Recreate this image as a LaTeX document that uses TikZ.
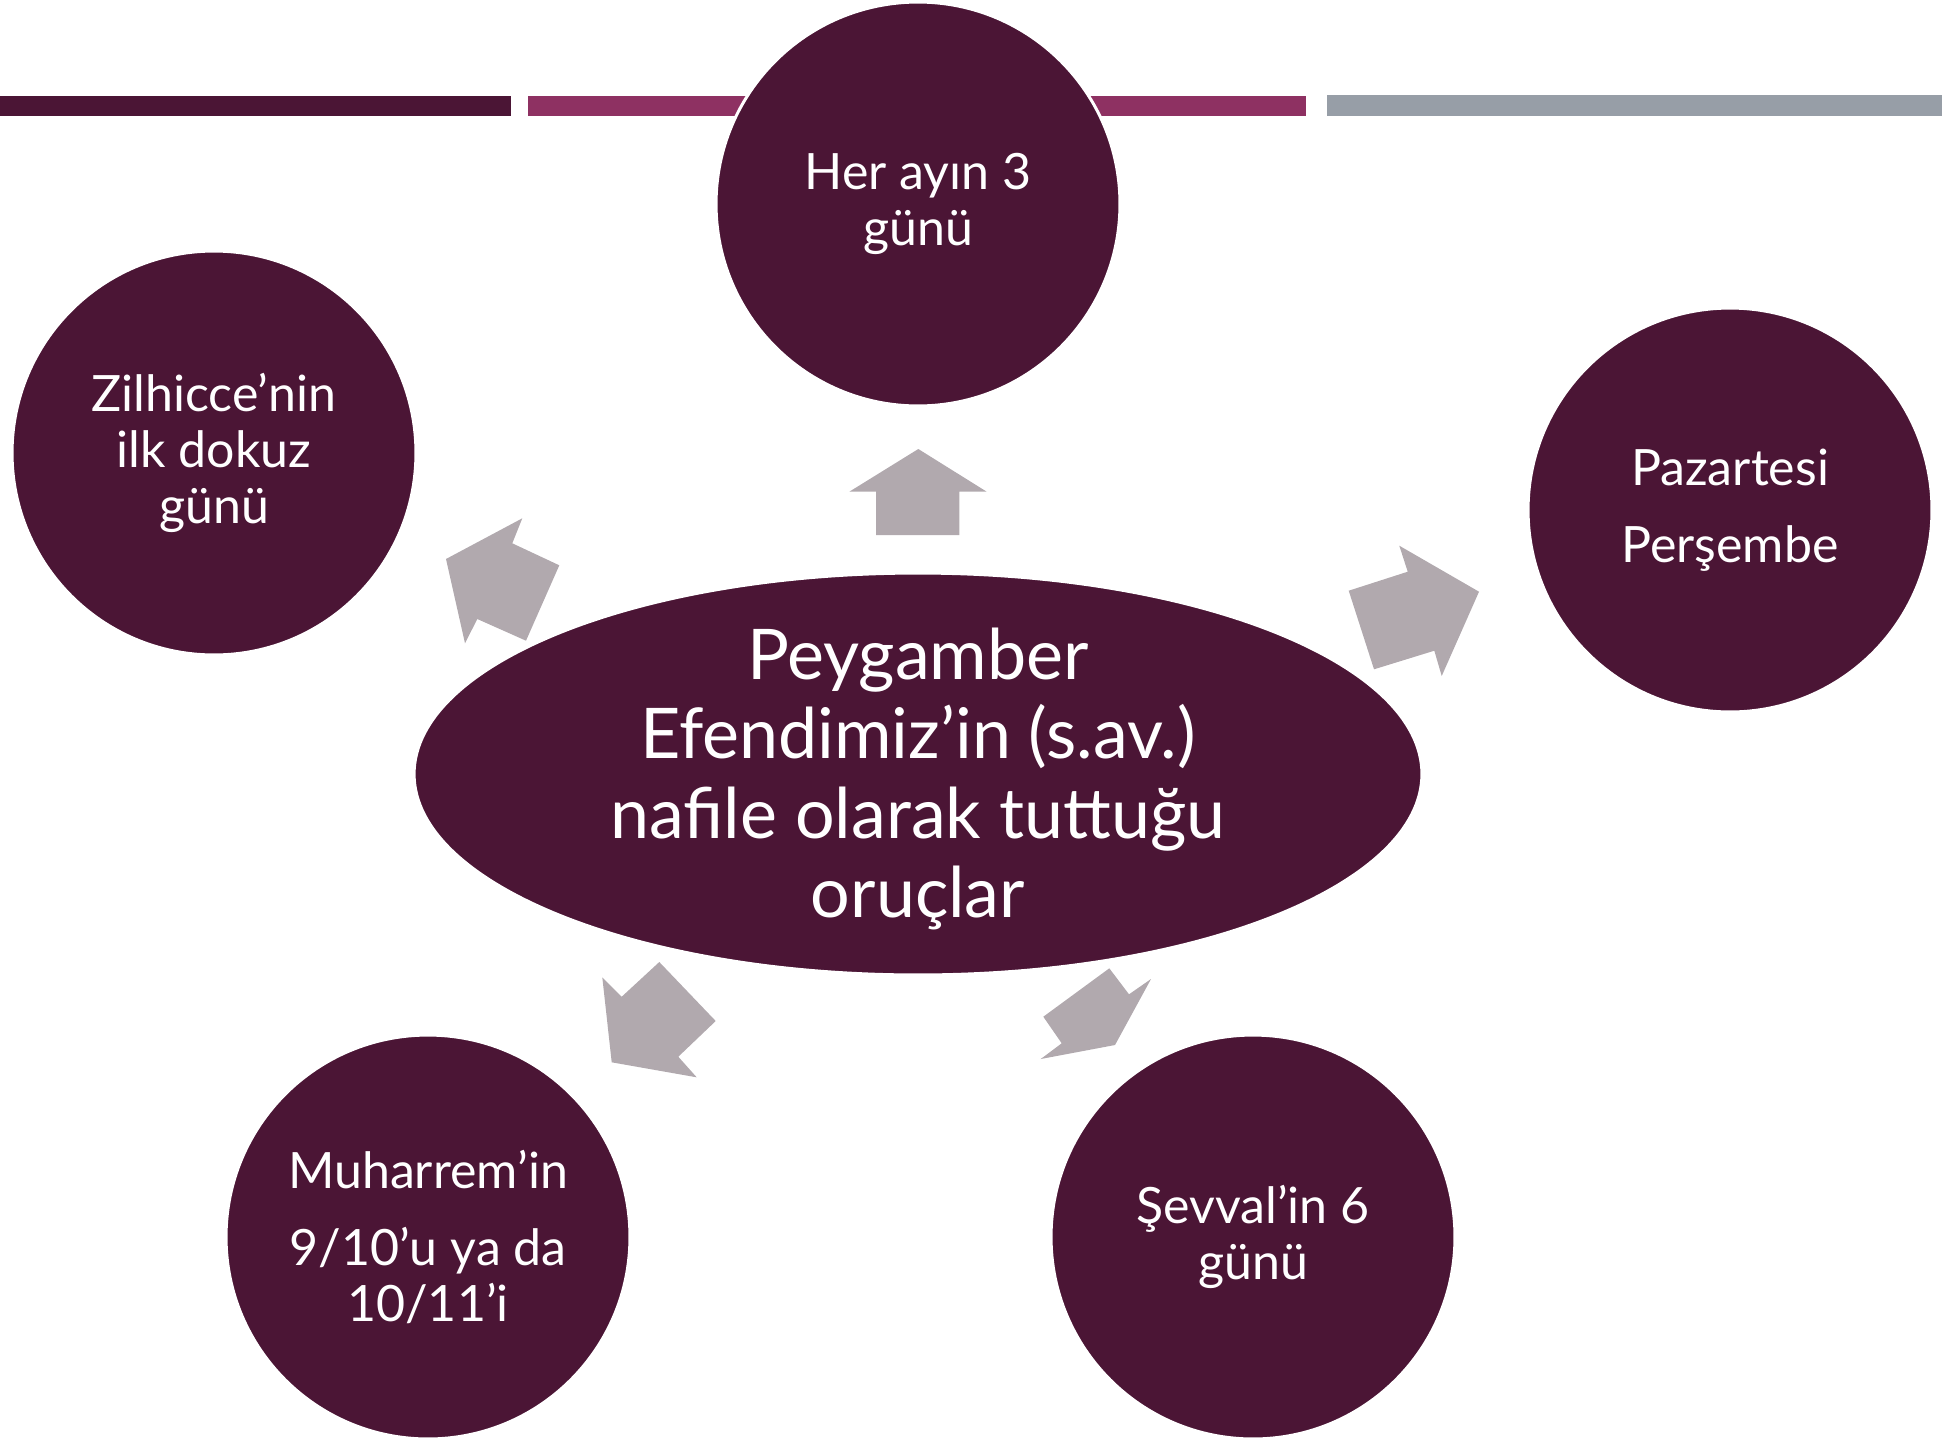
\documentclass[tikz,border=0pt]{standalone}
\usepackage{fontspec}
\setmainfont{Lato}
\usepackage{tikz}
\usetikzlibrary{shapes.geometric}
\definecolor{plum}{HTML}{4B1535}
\definecolor{berry}{HTML}{8E3162}
\definecolor{slate}{HTML}{979EA7}
\definecolor{ash}{HTML}{B1A9AE}

\begin{document}
\begin{tikzpicture}[x=0.02cm,y=-0.02cm,
	bubble/.style={circle,fill=plum,draw=white,line width=1.7pt,minimum size=8.08cm,inner sep=0pt,
		text=white,align=center,font=\fontsize{28.5}{31.9}\selectfont},
	hub/.style={ellipse,fill=plum,draw=white,line width=1.7pt,minimum width=20.16cm,minimum height=8.04cm,inner sep=0pt},
	hubtext/.style={text=white,align=center,font=\fontsize{39.8}{45}\selectfont},
	blockarrow/.style={fill=ash}]
	\useasboundingbox (0,0) rectangle (1942,1440);
	
	% bars along the top
	\fill[plum] (0,96) rectangle (510.5,116);
	\fill[berry] (528,96) rectangle (1306,116);
	\fill[slate] (1327,95) rectangle (1942,116);
	
	\node[bubble] (top) at (918,204) {Her ayın 3\\günü};
	\node[bubble] (left) at (214,453) {Zilhicce’nin\\ilk dokuz\\günü};
	\node[bubble] (right) at (1730,510) {Pazartesi\\[12pt]Perşembe};
	\node[bubble] (botleft) at (428,1237) {Muharrem’in\\[12pt]9/10’u ya da\\10/11’i};
	\node[bubble] (botright) at (1253,1237) {Şevval’in 6\\günü};
	
	\node[hub] (hub) at (918,774) {};
	\node[hubtext] (hubtxt) at (918,779) {Peygamber\\Efendimiz’in (s.av.)\\nafile olarak tuttuğu\\oruçlar};
	
	% block arrows
	\fill[blockarrow] (918.3,449) -- (986.7,491.7) -- (959.3,491.7) -- (959.3,535) -- (876,535) -- (876,491.7) -- (849.3,491.7) -- cycle;
	\fill[blockarrow] (446,559) -- (522.3,518.3) -- (512.3,543.3) -- (559.3,565.3) -- (526,640.7) -- (477.3,619) -- (465,643.3) -- cycle;
	\fill[blockarrow] (1399.3,545.7) -- (1479,591.7) -- (1441.7,676) -- (1434.3,650.7) -- (1374,669.3) -- (1348.7,590.7) -- (1407.7,571.7) -- cycle;
	\fill[blockarrow] (602.3,977.3) -- (621.7,996.7) -- (659.3,962) -- (715.7,1021) -- (678.3,1056.7) -- (696.7,1077.3) -- (611.7,1062.3) -- cycle;
	\fill[blockarrow] (1109.3,968.3) -- (1129,994.3) -- (1151,979) -- (1115,1045) -- (1040.7,1059) -- (1061.7,1043.3) -- (1043.3,1016.7) -- cycle;
\end{tikzpicture}
\end{document}
